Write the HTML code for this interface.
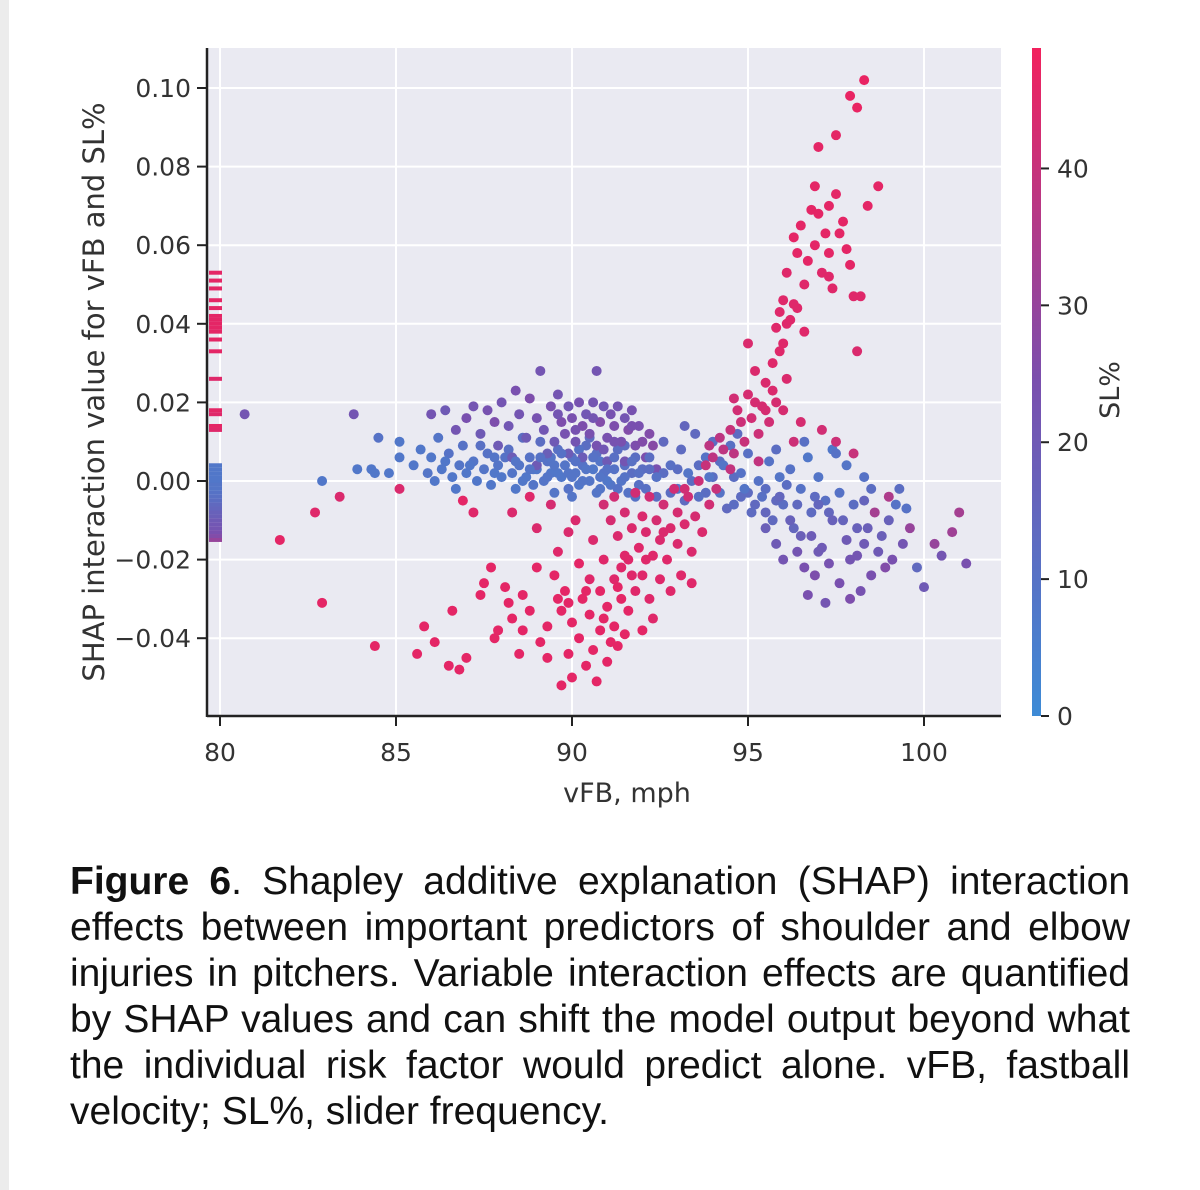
<!DOCTYPE html>
<html><head><meta charset="utf-8">
<style>
html,body{margin:0;padding:0;background:#fff;}
body{width:1200px;height:1190px;position:relative;overflow:hidden;}
#strip{position:absolute;left:0;top:0;width:9px;height:1190px;background:#ececec;}
#chart{position:absolute;left:0;top:0;}
#caption{position:absolute;left:70px;top:859px;width:1060px;font-family:"Liberation Sans",sans-serif;font-size:39px;line-height:46px;color:#111;}
#caption span{display:block;white-space:nowrap;text-align:justify;text-align-last:justify;}
#caption span.last{text-align-last:left;}
</style></head><body>
<div id="strip"></div>
<svg id="chart" width="1200" height="840"></svg>
<div id="caption"><span><b>Figure 6</b>. Shapley additive explanation (SHAP) interaction</span><span>effects between important predictors of shoulder and elbow</span><span>injuries in pitchers. Variable interaction effects are quantified</span><span>by SHAP values and can shift the model output beyond what</span><span>the individual risk factor would predict alone. vFB, fastball</span><span class="last">velocity; SL%, slider frequency.</span></div>
<script>
const xTicks=[80,85,90,95,100];
const yTicks=[-0.04,-0.02,0,0.02,0.04,0.06,0.08,0.10];
const yTickLabels=["\u22120.04","\u22120.02","0.00","0.02","0.04","0.06","0.08","0.10"];
const cTicks=[0,10,20,30,40];
const leftOutliers=[[80.7,.017,22],[82.9,0,8],[83.4,-.004,44],[82.7,-.008,45],[81.7,-.015,46],[82.9,-.031,46],[83.8,.017,22],[83.9,.003,8],[84.3,.003,8],[84.4,.002,8],[84.5,.011,10],[84.8,.002,8],[85.1,.010,8],[85.1,.006,8],[85.1,-.002,44],[84.4,-.042,46],[85.6,-.044,46],[85.8,-.037,46],[86.1,-.041,46],[86.5,-.047,46],[86.8,-.048,46],[86.6,-.033,46]];
const blueBand=[[85.5,.004,8],[85.7,.008,8],[85.9,.002,9],[86.0,.006,8],[86.2,.011,9],[86.3,.003,8],[86.5,.007,10],[86.6,.001,8],[86.8,.004,9],[86.9,.009,10],[87.0,.002,8],[87.2,.005,9],[87.3,0,8],[87.5,.003,9],[87.6,.007,10],[87.7,-.001,8],[87.9,.004,9],[88.0,.001,8],[88.1,.006,10],[88.3,.002,9],[88.4,-.002,8],[88.5,.004,9],[88.7,.001,8],[88.8,.006,10],[88.9,-.001,9],[89.0,.003,8],[89.2,0,9],[89.3,.005,10],[89.4,.002,8],[89.5,-.003,9],[89.6,.008,11],[89.7,.001,8],[89.8,.004,9],[89.9,-.002,10],[90.0,.006,11],[90.1,.002,9],[90.2,-.001,8],[90.3,.004,10],[90.4,.009,12],[90.5,0,9],[90.6,.003,8],[90.7,.007,11],[90.8,-.002,9],[90.9,.002,10],[91.0,.005,11],[91.1,-.001,9],[91.2,.003,10],[91.3,.008,12],[91.4,0,9],[91.5,.004,11],[91.6,-.003,10],[91.7,.002,12],[91.8,.006,12],[91.9,-.001,11],[92.0,.003,12],[86.1,0,8],[86.7,-.002,8],[87.4,.009,11],[88.2,.008,11],[88.6,.011,12],[89.1,.010,12],[89.6,.002,8],[90.0,-.004,9],[90.5,.011,13],[91.0,0,8],[91.5,.009,13],[89.4,.006,9],[88.9,.003,8],[87.8,.002,8],[90.8,.005,9],[90.2,.008,10]];
const blueFill=[[88.6,.0,8],[88.8,.003,9],[89.1,.006,10],[89.3,.001,9],[89.5,.004,9],[89.7,.007,10],[89.9,.002,9],[90.1,.005,10],[90.3,.0,9],[90.4,.003,9],[90.6,.006,10],[90.8,.001,9],[91.0,.003,10],[91.2,.006,11],[91.3,-.002,10],[91.5,.001,10],[91.7,.005,11],[91.9,.002,11],[92.1,-.002,11],[92.2,.003,12],[92.4,-.004,12],[92.6,.002,12],[92.8,-.003,12],[93.0,.003,12],[93.2,-.005,13],[93.4,.0,12],[93.6,.004,12],[93.8,-.003,12],[94.0,.001,12],[94.2,.005,12],[94.4,-.007,14],[94.6,.001,12],[94.8,-.004,13],[95.0,-.003,13],[95.2,-.006,14],[95.5,-.002,12],[95.8,-.005,14],[96.1,-.001,12],[96.4,-.006,14],[96.9,-.004,13],[97.3,-.008,15],[97.7,-.010,16],[98.1,-.012,17],[98.5,-.002,12],[98.8,-.014,18],[97.9,-.020,22],[98.3,-.016,20],[96.5,-.014,18],[97.0,-.018,20],[95.5,-.008,15],[87.1,.004,8],[86.4,.005,8],[87.8,.006,9],[88.4,.005,9],[90.0,.001,9],[90.7,-.003,9],[91.8,-.004,10]];
const purpleBand=[[86.0,.017,22],[86.4,.018,20],[86.7,.013,22],[87.0,.016,24],[87.2,.019,22],[87.4,.012,20],[87.6,.018,23],[87.8,.015,25],[88.0,.020,22],[88.2,.014,21],[88.4,.023,24],[88.5,.017,22],[88.7,.011,20],[88.8,.021,25],[89.0,.016,23],[89.1,.028,22],[89.2,.013,21],[89.4,.019,24],[89.5,.010,20],[89.6,.022,22],[89.7,.015,25],[89.8,.012,23],[89.9,.019,21],[90.0,.016,24],[90.1,.010,22],[90.2,.020,23],[90.3,.014,25],[90.4,.017,21],[90.5,.012,24],[90.6,.020,22],[90.7,.009,23],[90.7,.028,22],[90.8,.015,26],[90.9,.019,21],[91.0,.011,24],[91.1,.017,23],[91.2,.014,25],[91.3,.019,22],[91.4,.010,24],[91.5,.016,22],[91.6,.013,26],[91.7,.018,23],[91.8,.009,25],[91.9,.014,24],[92.0,.010,26],[92.1,.006,25],[92.3,.009,27],[89.3,.007,18],[88.3,.006,19],[87.9,.009,20],[90.3,.006,19],[91.0,.005,20],[91.5,.005,22],[92.4,.003,24],[89.0,.004,20],[89.6,.017,22],[90.1,.013,23],[90.6,.016,22],[91.2,.010,23],[91.7,.014,24],[92.2,.012,26],[89.9,.007,19],[90.9,.008,21]];
const redLowBranch=[[86.9,-.005,46],[87.2,-.008,45],[87.4,-.029,46],[87.5,-.026,46],[87.7,-.022,46],[87.9,-.038,46],[88.1,-.027,46],[88.2,-.031,46],[88.3,-.035,46],[88.6,-.029,46],[88.5,-.044,46],[88.8,-.033,46],[89.0,-.022,46],[89.1,-.041,46],[89.3,-.037,46],[89.3,-.045,46],[89.5,-.024,46],[89.6,-.030,46],[89.6,-.018,45],[89.7,-.033,46],[89.8,-.028,46],[89.9,-.044,46],[89.7,-.052,46],[90.0,-.050,46],[90.0,-.036,46],[90.2,-.021,46],[90.2,-.040,46],[90.3,-.030,46],[90.4,-.047,46],[90.5,-.025,45],[90.5,-.034,46],[90.6,-.043,46],[90.7,-.051,46],[90.8,-.028,46],[90.8,-.038,46],[90.9,-.020,45],[91.0,-.032,46],[91.0,-.046,46],[91.2,-.037,46],[91.2,-.025,45],[91.3,-.042,46],[91.4,-.030,46],[91.5,-.039,46],[91.5,-.019,45],[90.1,-.010,44],[89.0,-.012,44],[88.3,-.008,44],[88.8,-.004,45],[89.4,-.006,43],[87.0,-.045,46],[87.8,-.040,46],[88.6,-.038,46],[89.9,-.013,44],[90.6,-.015,44],[90.9,-.035,46],[91.1,-.041,46],[91.3,-.027,46],[90.4,-.028,46],[89.9,-.031,46]];
const redCenter=[[90.9,-.006,42],[91.1,-.010,43],[91.2,-.004,42],[91.3,-.014,44],[91.5,-.008,43],[91.6,-.020,45],[91.7,-.012,44],[91.8,-.003,42],[91.9,-.017,45],[92.0,-.024,45],[92.0,-.009,44],[92.1,-.013,44],[92.2,-.030,45],[92.2,-.004,42],[92.3,-.019,45],[92.4,-.010,43],[92.5,-.025,45],[92.5,-.015,44],[92.6,-.006,42],[92.7,-.020,45],[92.8,-.012,44],[92.9,-.002,42],[93.0,-.016,44],[93.0,-.008,43],[93.1,-.024,45],[93.2,-.011,44],[93.3,-.004,42],[93.4,-.018,44],[93.5,-.009,43],[93.6,0,41],[93.7,-.013,44],[93.8,.004,40],[93.9,-.006,42],[94.0,.006,38],[94.1,-.002,40],[94.3,.008,38],[94.5,.003,39],[92.3,-.035,45],[91.8,-.028,45],[91.4,-.022,45],[92.8,-.028,45],[93.4,-.026,45],[91.6,-.033,46],[92.0,-.038,46],[91.7,-.024,45],[92.1,-.020,45],[92.6,-.013,44],[93.2,-.002,42],[94.2,.011,38],[94.6,.007,38],[93.9,.009,38]];
const blueCenter=[[92.2,.006,12],[92.4,.001,10],[92.6,.010,14],[92.8,.004,11],[93.0,-.002,10],[93.1,.008,13],[93.3,.002,9],[93.5,.012,14],[93.6,-.004,11],[93.8,.006,10],[93.9,.001,9],[94.0,.010,12],[94.2,-.003,10],[94.3,.004,9],[94.5,.009,11],[94.6,-.006,12],[94.8,.002,10],[94.9,-.002,9],[95.0,.007,11],[95.1,-.008,13],[95.3,0,10],[95.4,-.004,11],[95.6,.005,10],[95.7,-.010,14],[95.9,.001,9],[96.0,-.006,12],[96.2,.003,10],[96.3,-.012,15],[96.5,-.002,10],[96.7,.006,8],[96.8,-.008,13],[97.0,.001,9],[97.2,-.005,11],[97.4,.008,8],[97.6,-.003,10],[97.8,.004,9],[98.0,-.006,12],[98.3,.001,10],[93.2,.014,15],[94.7,.012,13],[95.8,.008,12],[96.6,.010,11],[97.5,.007,10],[99.2,-.006,10],[99.5,-.007,10]];
const redRise=[[94.5,.013,40],[94.7,.018,42],[94.9,.010,40],[95.0,.022,43],[95.0,.035,44],[95.1,.016,42],[95.2,.028,44],[95.3,.012,41],[95.4,.019,43],[95.5,.025,44],[95.6,.015,42],[95.7,.030,45],[95.8,.020,43],[95.8,.039,45],[95.9,.043,45],[96.0,.035,45],[96.0,.046,45],[96.1,.026,44],[96.1,.053,45],[96.2,.041,45],[96.3,.045,45],[96.3,.062,46],[96.4,.058,46],[96.5,.065,46],[96.6,.050,45],[96.7,.056,46],[96.8,.069,46],[96.9,.060,46],[96.9,.075,46],[97.0,.068,46],[97.0,.085,46],[97.1,.053,45],[97.2,.063,46],[97.3,.070,46],[97.3,.058,46],[97.4,.049,45],[97.5,.073,46],[97.5,.088,46],[97.6,.063,46],[97.7,.066,46],[97.8,.059,46],[97.9,.055,46],[97.9,.098,47],[98.0,.047,45],[98.1,.095,47],[98.2,.047,45],[98.3,.102,47],[98.4,.070,46],[98.7,.075,46],[98.1,.033,44],[97.3,.052,45],[96.6,.038,45],[96.0,.018,43],[96.5,.015,43],[97.1,.013,42],[97.5,.010,41],[96.3,.010,41],[98.0,.007,40],[95.3,.005,39],[94.8,.015,41],[95.2,.020,43],[94.6,.021,42],[95.5,.018,43],[95.7,.023,44],[95.9,.033,45],[96.1,.040,45],[96.4,.044,45]];
const rightTail=[[95.5,-.012,18],[95.8,-.016,20],[96.0,-.020,22],[96.2,-.010,17],[96.4,-.018,22],[96.6,-.022,24],[96.8,-.014,19],[96.9,-.024,25],[97.1,-.017,20],[97.3,-.021,23],[97.4,-.010,17],[97.6,-.026,24],[97.8,-.015,20],[97.9,-.030,25],[98.1,-.019,22],[98.2,-.028,23],[98.4,-.012,18],[98.5,-.024,24],[98.7,-.018,20],[98.9,-.022,26],[99.0,-.010,17],[99.1,-.020,24],[99.4,-.016,22],[99.6,-.012,30],[99.8,-.022,14],[100.0,-.027,20],[100.3,-.016,30],[100.5,-.019,22],[100.8,-.013,32],[101.0,-.008,33],[101.2,-.021,24],[98.3,-.005,16],[97.0,-.006,15],[95.9,-.004,15],[99.3,-.002,12],[96.7,-.029,24],[97.2,-.031,22],[98.6,-.008,33],[99.0,-.004,35]];
const rugShap=[.053,.051,.049,.046,.044,.042,.041,.040,.039,.038,.036,.033,.026,.018,.017,.014,.013,.004,.003,.002,.001,0,-.001,-.002,-.003,-.004,-.005,-.006,-.007,-.008,-.009,-.010,-.011,-.012,-.013,-.014,-.015];
const rugSl=[46,46,46,46,46,46,46,46,46,46,46,46,45,46,45,46,45,8,8,8,8,8,9,9,10,11,12,14,15,17,18,20,21,22,24,26,30];

const NS="http://www.w3.org/2000/svg";
const svg=document.getElementById('chart');
const L=207,R=1001,T=48,B=716;
const X=v=>220+(v-80)*35.2;
const Y=s=>481-s*3930;
const CMIN=0,CMAX=48.8;
const CY=c=>716-(c-CMIN)/(CMAX-CMIN)*(716-48);
function col(c){
  const t=Math.max(0,Math.min(1,c/CMAX));
  const a=[61,139,214],m=[122,79,174],b=[242,33,93];
  let p,q,u; if(t<0.5){p=a;q=m;u=t/0.5;} else {p=m;q=b;u=(t-0.5)/0.5;}
  return `rgb(${p.map((v,i)=>Math.round(v+(q[i]-v)*u)).join(',')})`;
}
function mk(tag,attrs,parent){const e=document.createElementNS(NS,tag);for(const k in attrs)e.setAttribute(k,attrs[k]);(parent||svg).appendChild(e);return e;}

const bg=mk('rect',{x:L,y:T,width:R-L,height:B-T,fill:'#eaeaf2'});


xTicks.forEach(v=>{const g=mk('line',{x1:X(v),x2:X(v),y1:T,y2:B,stroke:'#fff','stroke-width':2});

});
yTicks.forEach(s=>{const g=mk('line',{x1:L,x2:R,y1:Y(s),y2:Y(s),stroke:'#fff','stroke-width':2});

});

rugShap.forEach((s,i)=>{const r=mk('rect',{x:209,y:Y(s)-2,width:13,height:4,fill:col(rugSl[i])});

});

const groups=[blueBand,purpleBand,blueFill,leftOutliers,redLowBranch,blueCenter,rightTail,redCenter,redRise];
groups.forEach(g=>g.forEach(p=>{
  const c=mk('circle',{cx:X(p[0]),cy:Y(p[1]),r:5,fill:col(p[2])});
  
  
}));

const sp1=mk('line',{x1:L,x2:L,y1:T,y2:B+1,stroke:'#222','stroke-width':2.5});


const sp2=mk('line',{x1:L,x2:R,y1:B,y2:B,stroke:'#222','stroke-width':2.5});


const font='"DejaVu Sans","Liberation Sans",sans-serif';
xTicks.forEach(v=>{
  mk('line',{x1:X(v),x2:X(v),y1:B,y2:B+10,stroke:'#222','stroke-width':2});
  const t=mk('text',{x:X(v),y:761,'text-anchor':'middle','font-family':font,'font-size':25,fill:'#333'});
  t.textContent=v;
  
  
});
yTicks.forEach((s,i)=>{
  mk('line',{x1:L-10,x2:L,y1:Y(s),y2:Y(s),stroke:'#222','stroke-width':2});
  const t=mk('text',{x:191,y:Y(s)+9,'text-anchor':'end','font-family':font,'font-size':25,fill:'#333'});
  t.textContent=yTickLabels[i];
  
  
});
const xl=mk('text',{x:627,y:802,'text-anchor':'middle','font-family':font,'font-size':27,fill:'#333'});
xl.textContent='vFB, mph';


const yl=mk('text',{x:0,y:0,'text-anchor':'middle','font-family':font,'font-size':29,fill:'#333',transform:'translate(104,392) rotate(-90)'});
yl.textContent='SHAP interaction value for vFB and SL%';



const defs=mk('defs',{});
const grad=mk('linearGradient',{id:'cb',x1:0,y1:1,x2:0,y2:0},defs);
[0,0.25,0.5,0.75,1].forEach(o=>mk('stop',{offset:o,'stop-color':col(o*CMAX)},grad));
const cb=mk('rect',{x:1032,y:48,width:9,height:668,fill:'url(#cb)'});


cTicks.forEach(c=>{
  mk('line',{x1:1041,x2:1049,y1:CY(c),y2:CY(c),stroke:'#222','stroke-width':2});
  const t=mk('text',{x:1057,y:CY(c)+9,'font-family':font,'font-size':25,fill:'#333'});
  t.textContent=c;
  
  
});
const cl=mk('text',{x:0,y:0,'text-anchor':'middle','font-family':font,'font-size':27,fill:'#333',transform:'translate(1119,390) rotate(-90)'});
cl.textContent='SL%';


</script>
</body></html>
